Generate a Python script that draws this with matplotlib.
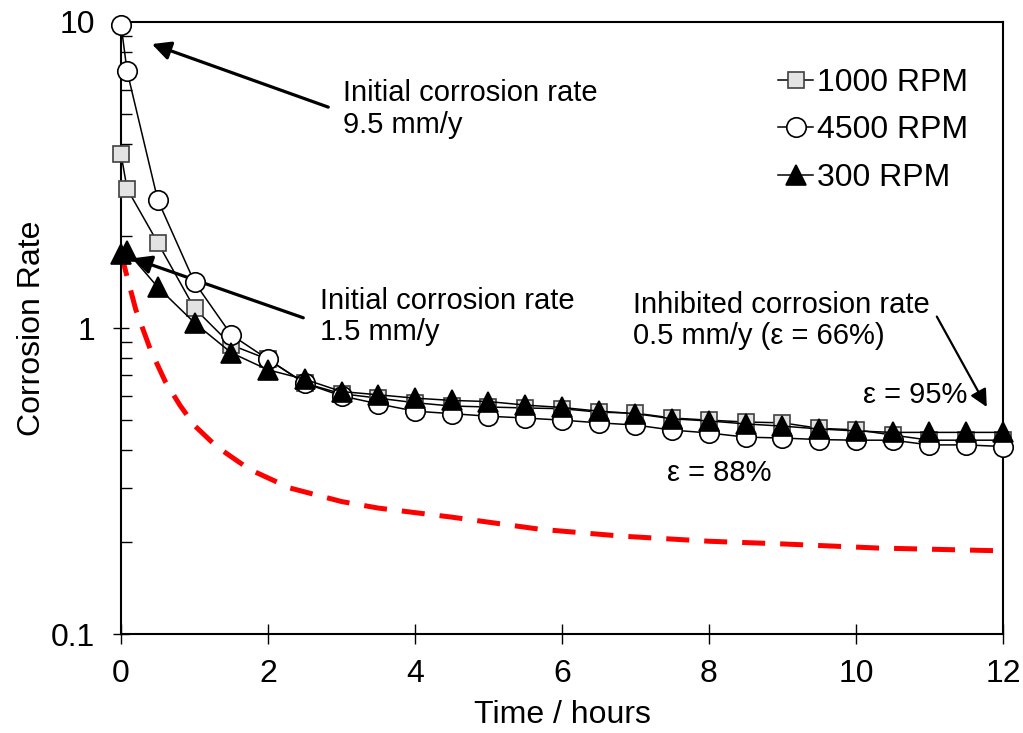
import numpy as np
import matplotlib
matplotlib.use("Agg")
import matplotlib.pyplot as plt
from matplotlib.ticker import LogLocator, FixedLocator, FuncFormatter

plt.rcParams['font.family'] = ['Liberation Sans', 'DejaVu Sans']

# sampling times (hours)
time_h = [0, 0.083, 0.5, 1, 1.5, 2, 2.5, 3, 3.5, 4, 4.5, 5, 5.5, 6,
          6.5, 7, 7.5, 8, 8.5, 9, 9.5, 10, 10.5, 11, 11.5, 12]

rate_1000 = [3.7, 2.85, 1.9, 1.16, 0.88, 0.79, 0.66, 0.61, 0.59, 0.57,
             0.556, 0.552, 0.548, 0.545, 0.531, 0.527, 0.508, 0.50, 0.493,
             0.49, 0.47, 0.465, 0.447, 0.43, 0.43, 0.43]
rate_4500 = [9.8, 6.9, 2.62, 1.41, 0.95, 0.79, 0.66, 0.60, 0.565, 0.535,
             0.525, 0.515, 0.508, 0.50, 0.49, 0.482, 0.464, 0.454, 0.44,
             0.437, 0.432, 0.43, 0.43, 0.415, 0.415, 0.41]
rate_300 = [1.75, 1.78, 1.36, 1.04, 0.83, 0.73, 0.68, 0.62, 0.605, 0.59,
            0.58, 0.575, 0.56, 0.55, 0.535, 0.525, 0.505, 0.497, 0.486,
            0.478, 0.468, 0.461, 0.456, 0.456, 0.456, 0.456]

# red dashed reference curve
ref_t = [0, 0.2, 0.4, 0.6, 0.8, 1.0, 1.3, 1.75, 2.3, 3, 3.5, 4.5, 5.7,
         6.8, 8, 9, 10.3, 12]
ref_v = [1.75, 1.15, 0.85, 0.67, 0.56, 0.48, 0.41, 0.345, 0.30, 0.271,
         0.258, 0.241, 0.22, 0.209, 0.201, 0.197, 0.191, 0.187]

FS = 21   # annotation text
FL = 23   # axis labels, ticks, legend

fig = plt.figure(figsize=(10.23, 7.33), dpi=100)
ax = fig.add_axes([0.1183, 0.135, 0.8621, 0.835])

line_kw = dict(color='black', lw=1.1, markeredgewidth=1.2, clip_on=False)
ax.plot(time_h, rate_1000, marker='s', ms=12, mfc='#e3e3e3', mec='#404040',
        label='1000 RPM', zorder=3, **line_kw)
ax.plot(time_h, rate_4500, marker='o', ms=14, mfc='white', mec='black',
        label='4500 RPM', zorder=4, **line_kw)
ax.plot(time_h, rate_300, marker='^', ms=14, mfc='black', mec='black',
        label='300 RPM', zorder=5, **line_kw)
ax.plot(ref_t, ref_v, color='red', lw=3.6, dashes=(4.6, 3.0), zorder=2)

ax.set_yscale('log')
ax.set_xlim(0, 12)
ax.set_ylim(0.1, 10)
ax.set_xticks(np.arange(0, 13, 2))
ax.yaxis.set_major_locator(FixedLocator([0.1, 1, 10]))
ax.yaxis.set_major_formatter(FuncFormatter(lambda v, p: f"{v:g}"))
ax.yaxis.set_minor_locator(LogLocator(base=10, subs=np.arange(2, 10)))
ax.yaxis.set_minor_formatter(FuncFormatter(lambda v, p: ""))

ax.tick_params(axis='x', direction='inout', length=14, width=1, labelsize=FL, pad=11)
ax.tick_params(axis='y', which='major', direction='inout', length=11, width=1,
               labelsize=FL, pad=13)
ax.tick_params(axis='y', which='minor', direction='in', length=8, width=1)
for s in ax.spines.values():
    s.set_linewidth(1.5)

ax.set_xlabel('Time / hours', fontsize=FL, labelpad=8)
ax.set_ylabel('Corrosion Rate', fontsize=FL, labelpad=3)

arrow_kw = dict(arrowstyle='-|>', color='black', lw=2.3, mutation_scale=28,
                shrinkA=0, shrinkB=0)
ax.annotate('', xy=(0.42, 8.47), xytext=(2.82, 5.27), arrowprops=arrow_kw)
ax.text(3.02, 5.2, 'Initial corrosion rate\n9.5 mm/y', fontsize=FS,
        ha='left', va='center', linespacing=1.15)

ax.annotate('', xy=(0.16, 1.69), xytext=(2.48, 1.08), arrowprops=arrow_kw)
ax.text(2.71, 1.09, 'Initial corrosion rate\n1.5 mm/y', fontsize=FS,
        ha='left', va='center', linespacing=1.15)

ax.annotate('', xy=(11.78, 0.552), xytext=(11.1, 1.09),
            arrowprops=dict(arrow_kw, lw=1.6, mutation_scale=26))
ax.text(6.97, 1.06, 'Inhibited corrosion rate\n0.5 mm/y (ε = 66%)',
        fontsize=FS, ha='left', va='center', linespacing=1.15)

ax.text(10.1, 0.604, 'ε = 95%', fontsize=FS, ha='left', va='center')
ax.text(7.43, 0.336, 'ε = 88%', fontsize=FS, ha='left', va='center')

ax.legend(loc='upper right', bbox_to_anchor=(0.96, 0.925), frameon=False,
          fontsize=FL, handlelength=1.1, handletextpad=0.1, labelspacing=0.55,
          borderaxespad=0, borderpad=0)

fig.savefig('out.png', dpi=100)
